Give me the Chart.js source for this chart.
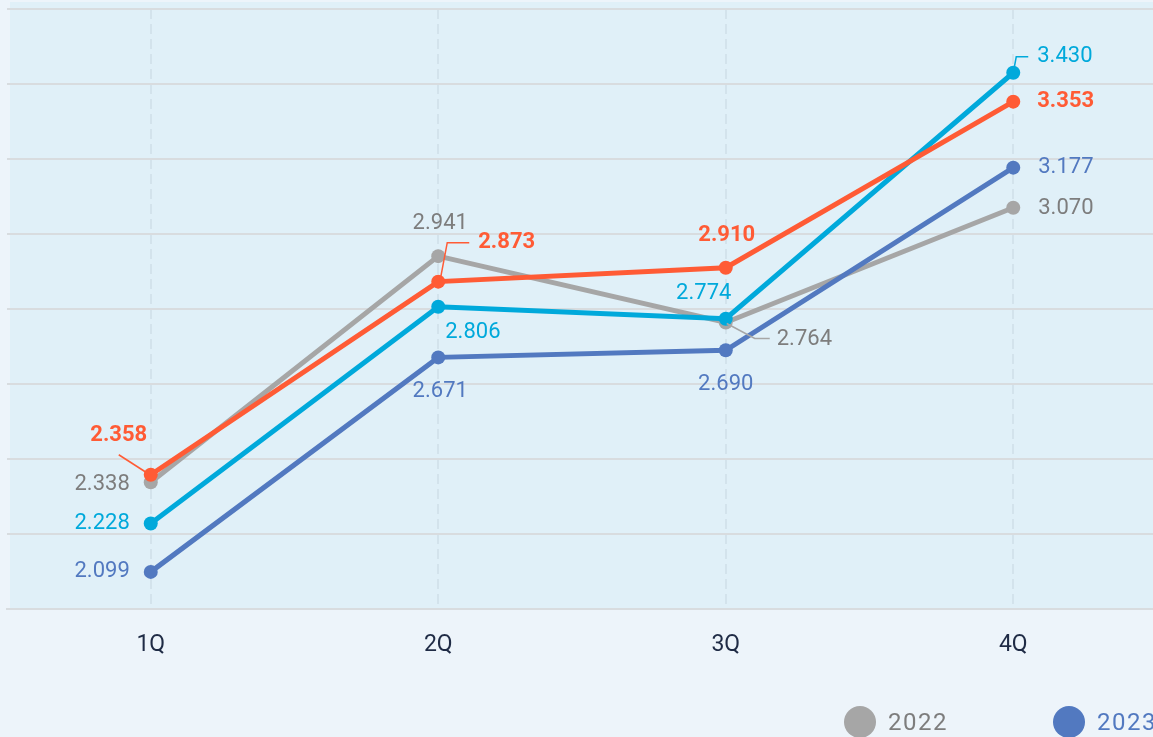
<!DOCTYPE html>
<html>
<head>
<meta charset="utf-8">
<script src="https://cdn.jsdelivr.net/npm/chart.js@4/dist/chart.umd.min.js"></script>
<style>
  html, body { margin: 0; padding: 0; background: #edf4fa; overflow: hidden; }
  #wrap { position: relative; width: 1153px; height: 737px; overflow: hidden; }
  #box { position: absolute; left: 0; top: 0; width: 1165px; height: 737px; }
  #legend { position: absolute; left: 844px; top: 706px; white-space: nowrap; font-family: Roboto, sans-serif; }
  .item { display: inline-flex; align-items: center; width: 209px; }
  .dot { width: 32px; height: 32px; border-radius: 50%; margin-right: 12px; }
  .txt { font-size: 24px; letter-spacing: 1.5px; }
</style>
</head>
<body>
<div id="wrap">
  <div id="box"><canvas id="qChart"></canvas></div>
  <div id="legend"></div>
</div>
<script>
// data
const quarters = ['1Q', '2Q', '3Q', '4Q'];
const seriesNames = ['2022', '2023', '2024', '2025'];
const values2022 = [2.338, 2.941, 2.764, 3.070];
const values2023 = [2.099, 2.671, 2.690, 3.177];
const values2024 = [2.228, 2.806, 2.774, 3.430];
const values2025 = [2.358, 2.873, 2.910, 3.353];
const yMin = 2.0, yMax = 3.6, yStep = 0.2;

const lineColors = ['#a6a6a6', '#5279c0', '#00a9db', '#ff5b35'];
const textColors = ['#7d7d7d', '#5279c0', '#00a9db', '#ff5b35'];

// where each value label sits relative to its point (dx, dy, align, optional leader line)
const labelSpots = [
    [ { dx: -21, dy: 2, align: 'right' },
      { dx: 2, dy: -33, align: 'center' },
      { dx: 51, dy: 17, align: 'left', leader: [[1, 1], [29, 16], [44, 16]] },
      { dx: 25, dy: 1, align: 'left' } ],
    [ { dx: -21, dy: 0, align: 'right' },
      { dx: 2, dy: 34, align: 'center' },
      { dx: 0, dy: 34, align: 'center' },
      { dx: 25, dy: 0, align: 'left' } ],
    [ { dx: -21, dy: 0, align: 'right' },
      { dx: 7, dy: 26, align: 'left' },
      { dx: -22, dy: -25, align: 'center' },
      { dx: 24, dy: -16, align: 'left', leader: [[0, 0], [3, -16], [15, -16]] } ],
    [ { dx: -32, dy: -39, align: 'center', leader: [[-4, -2], [-32, -20]] },
      { dx: 40, dy: -39, align: 'left', leader: [[2, -2], [9, -39], [31, -39]] },
      { dx: 1, dy: -32, align: 'center' },
      { dx: 24, dy: 0, align: 'left' } ]
];
const boldSeries = [false, false, false, true];

const allValues = [values2022, values2023, values2024, values2025];
const drawOrder = [4, 3, 2, 1];

const datasets = allValues.map((vals, i) => ({
    label: seriesNames[i],
    data: vals,
    borderColor: lineColors[i],
    backgroundColor: lineColors[i],
    pointBackgroundColor: lineColors[i],
    pointBorderWidth: 0,
    pointRadius: 7,
    pointHoverRadius: 7,
    borderWidth: 5,
    tension: 0,
    fill: false,
    order: drawOrder[i]
}));

// light blue plot background
const plotBg = {
    id: 'plotBg',
    beforeDraw(chart) {
        const a = chart.chartArea;
        const ctx = chart.ctx;
        ctx.save();
        ctx.fillStyle = '#e0f0f8';
        ctx.fillRect(a.left + 3, a.top - 7, a.right - a.left, a.bottom - a.top + 7);
        ctx.restore();
    }
};

// value labels with small leader lines
const valueLabels = {
    id: 'valueLabels',
    afterDatasetsDraw(chart) {
        const ctx = chart.ctx;
        ctx.save();
        chart.data.datasets.forEach((ds, i) => {
            const meta = chart.getDatasetMeta(i);
            meta.data.forEach((pt, j) => {
                const spot = labelSpots[i][j];
                if (spot.leader) {
                    ctx.strokeStyle = lineColors[i];
                    ctx.lineWidth = 1.5;
                    ctx.beginPath();
                    spot.leader.forEach((p, k) => {
                        if (k === 0) ctx.moveTo(pt.x + p[0], pt.y + p[1]);
                        else ctx.lineTo(pt.x + p[0], pt.y + p[1]);
                    });
                    ctx.stroke();
                }
                ctx.fillStyle = textColors[i];
                ctx.font = (boldSeries[i] ? 'bold ' : '') + '22px Roboto, sans-serif';
                ctx.textAlign = spot.align;
                ctx.textBaseline = 'middle';
                ctx.fillText(ds.data[j].toFixed(3), pt.x + spot.dx, pt.y + spot.dy);
            });
        });
        ctx.restore();
    }
};

const ctx = document.getElementById('qChart').getContext('2d');
const chart = new Chart(ctx, {
    type: 'line',
    data: { labels: quarters, datasets: datasets },
    options: {
        responsive: true,
        maintainAspectRatio: false,
        animation: false,
        layout: { padding: { left: 7, right: 8, top: 9, bottom: 0 } },
        plugins: {
            legend: { display: false },
            tooltip: { enabled: false }
        },
        scales: {
            x: {
                offset: true,
                grid: {
                    color: '#d3e3ec',
                    lineWidth: 2,
                    drawTicks: false
                },
                // in v4 border.dash dashes the grid lines
                border: { color: '#d8dcdf', width: 2, dash: [10, 5] },
                ticks: {
                    color: '#1f2b45',
                    font: { family: 'Roboto, sans-serif', size: 23 },
                    padding: 22
                },
                afterFit(scale) { scale.height = 128; }
            },
            y: {
                min: yMin,
                max: yMax,
                ticks: { display: false, stepSize: yStep },
                grid: { color: '#d8dcdf', lineWidth: 2, drawTicks: false },
                border: { display: false },
                afterFit(scale) { scale.width = 0; }
            }
        }
    },
    plugins: [plotBg, valueLabels]
});

// legend (runs off the right edge like the original)
const legend = document.getElementById('legend');
seriesNames.forEach((name, i) => {
    const item = document.createElement('span');
    item.className = 'item';
    item.innerHTML = '<span class="dot" style="background:' + lineColors[i] + '"></span>' +
        '<span class="txt" style="color:' + textColors[i] + '">' + name + '</span>';
    legend.appendChild(item);
});
</script>
</body>
</html>
